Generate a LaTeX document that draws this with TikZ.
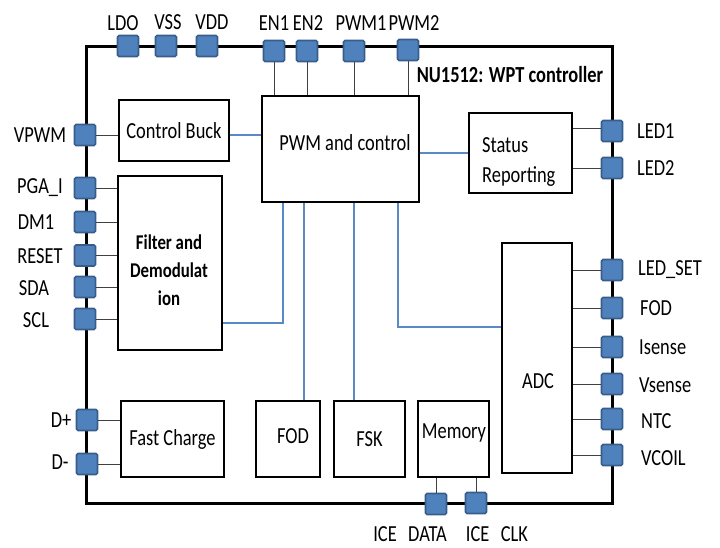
\documentclass[tikz,border=0pt]{standalone}
\usepackage{fontspec}
\setmainfont{Carlito}[FakeStretch=0.8]
\definecolor{pinfill}{HTML}{4F81BD}
\definecolor{pinedge}{HTML}{385D8A}
\definecolor{wire}{HTML}{5A8AC6}
\definecolor{thin}{HTML}{404040}
\begin{document}
\begin{tikzpicture}[x=1pt,y=-1pt,
  every node/.style={font=\fontsize{23}{26}\selectfont, inner sep=0pt},
  pin/.style={draw=pinedge, fill=pinfill, line width=1.6pt, rounded corners=1.5pt, minimum size=21pt},
  blk/.style={draw=black, line width=2.4pt},
  chip/.style={draw=black, line width=3pt},
  bw/.style={draw=wire, line width=2.4pt},
  tw/.style={draw=thin, line width=0.9pt}]
\useasboundingbox (0,0) rectangle (720,548);
% outer chip
\draw[chip] (86,47) rectangle (612,503);
% blocks
\node[blk, minimum width=157pt, minimum height=106pt] (pwm) at (340.5,149) {};
\node (pwmt) at (345,143) {PWM and control};
\node[blk, minimum width=110pt, minimum height=61pt] (cb) at (174,130.5) {Control Buck};
\node[blk, minimum width=104pt, minimum height=174pt] (filt) at (170,263) {};
\node[font=\bfseries\fontsize{21}{28}\selectfont, align=center] (filtt) at (169,270) {Filter and\\Demodulat\\ion};
\node[blk, minimum width=103pt, minimum height=80pt] (st) at (520.5,153) {};
\node[anchor=west] (st1) at (482,145) {Status};
\node[anchor=west] (st2) at (482,177) {Reporting};
\node[blk, minimum width=70pt, minimum height=230pt] (adc) at (537,358) {};
\node (adct) at (538,381) {ADC};
\node[blk, minimum width=103pt, minimum height=76pt] (fc) at (172.5,439) {Fast Charge};
\node[blk, minimum width=64pt, minimum height=76pt] (fod) at (288,439) {};
\node (fodt) at (293,436) {FOD};
\node[blk, minimum width=71pt, minimum height=76pt] (fsk) at (369.5,439) {FSK};
\node[blk, minimum width=71pt, minimum height=76pt] (mem) at (453.5,439) {};
\node (memt) at (454,433) {Memory};
\node[font=\bfseries\fontsize{23}{26}\selectfont] (title) at (510,75) {NU1512: WPT controller};
% blue connectors
\coordinate (j1) at (283,323);
\coordinate (j2) at (304,0);
\coordinate (j3) at (354,0);
\coordinate (j4) at (398,327);
\draw[bw] (cb.east |- 0,135) -- (pwm.west |- 0,135);
\draw[bw] (filt.east |- j1) -- (j1) -- (pwm.south -| j1);
\draw[bw] (pwm.south -| j2) -- (fod.north -| j2);
\draw[bw] (pwm.south -| j3) -- (fsk.north -| j3);
\draw[bw] (pwm.south -| j4) -- (j4) -- (adc.west |- j4);
\draw[bw] (pwm.east |- st.west) -- (st.west);
% pins top
\node[pin] (pLDO) at (128,46) {};
\node[pin] (pVSS) at (166,46) {};
\node[pin] (pVDD) at (207,46) {};
\node[pin] (pEN1) at (274,51) {};
\node[pin] (pEN2) at (307,51) {};
\node[pin] (pPWM1) at (354,51) {};
\node[pin] (pPWM2) at (408,50) {};
\node (lLDO) at (123,23) {LDO};
\node (lVSS) at (168,22) {VSS};
\node (lVDD) at (212,22) {VDD};
\node (lEN1) at (274,23) {EN1};
\node (lEN2) at (308,23) {EN2};
\node (lPWM1) at (361,23) {PWM1};
\node (lPWM2) at (414,23) {PWM2};
\draw[tw] (pEN1.south) -- (pEN1 |- pwm.north);
\draw[tw] (pEN2.south) -- (pEN2 |- pwm.north);
\draw[tw] (pPWM1.south) -- (pPWM1 |- pwm.north);
\draw[tw] (pPWM2.south) -- (pPWM2 |- pwm.north);
% pins left
\node[pin] (pVPWM) at (85,135) {};
\node[pin] (pPGA) at (85,188) {};
\node[pin] (pDM1) at (85,222) {};
\node[pin] (pRST) at (85,255.5) {};
\node[pin] (pSDA) at (85,287) {};
\node[pin] (pSCL) at (85,319) {};
\node[pin] (pDP) at (87,420) {};
\node[pin] (pDM) at (87,464) {};
\node (lVPWM) at (40,135) {VPWM};
\node (lPGA) at (40,188) {PGA\_I};
\node (lDM1) at (36,222) {DM1};
\node (lRST) at (40,256) {RESET};
\node (lSDA) at (34,288) {SDA};
\node (lSCL) at (36,320) {SCL};
\node (lDP) at (61,420) {D+};
\node (lDM) at (60,462) {D-};
\draw[tw] (pVPWM.east) -- (cb.west |- pVPWM);
\draw[tw] (pPGA.east) -- (filt.west |- pPGA);
\draw[tw] (pDM1.east) -- (filt.west |- pDM1);
\draw[tw] (pRST.east) -- (filt.west |- pRST);
\draw[tw] (pSDA.east) -- (filt.west |- pSDA);
\draw[tw] (pSCL.east) -- (filt.west |- pSCL);
\draw[tw] (pDP.east) -- (fc.west |- pDP);
\draw[tw] (pDM.east) -- (fc.west |- pDM);
% pins right
\node[pin] (pLED1) at (612,131) {};
\node[pin] (pLED2) at (612,168) {};
\node[pin] (pLSET) at (612,270) {};
\node[pin] (pFOD) at (612,308) {};
\node[pin] (pIS) at (612,347) {};
\node[pin] (pVS) at (612,384) {};
\node[pin] (pNTC) at (612,419) {};
\node[pin] (pVC) at (612,455) {};
\node[anchor=west] (lLED1) at (637,131) {LED1};
\node[anchor=west] (lLED2) at (637,168) {LED2};
\node[anchor=west] (lLSET) at (638,270) {LED\_SET};
\node[anchor=west] (lFOD) at (640,308) {FOD};
\node[anchor=west] (lIS) at (639,347) {Isense};
\node[anchor=west] (lVS) at (639,385) {Vsense};
\node[anchor=west] (lNTC) at (641,421) {NTC};
\node[anchor=west] (lVC) at (641,458) {VCOIL};
\draw[tw] (st.east |- 0,128) -- (pLED1.west |- 0,128);
\draw[tw] (st.east |- pLED2) -- (pLED2.west);
\draw[tw] (adc.east |- pLSET) -- (pLSET.west);
\draw[tw] (adc.east |- pFOD) -- (pFOD.west);
\draw[tw] (adc.east |- pIS) -- (pIS.west);
\draw[tw] (adc.east |- pVS) -- (pVS.west);
\draw[tw] (adc.east |- pNTC) -- (pNTC.west);
\draw[tw] (adc.east |- pVC) -- (pVC.west);
% pins bottom
\node[pin] (pICED) at (436,504) {};
\node[pin] (pICEC) at (476,503) {};
\node (lICED) at (410,534) {ICE\enspace DATA};
\node (lICEC) at (497,534) {ICE\enspace CLK};
\draw[tw] (pICED.north) -- (pICED |- mem.south);
\draw[tw] (pICEC.north) -- (pICEC |- mem.south);
\end{tikzpicture}
\end{document}
